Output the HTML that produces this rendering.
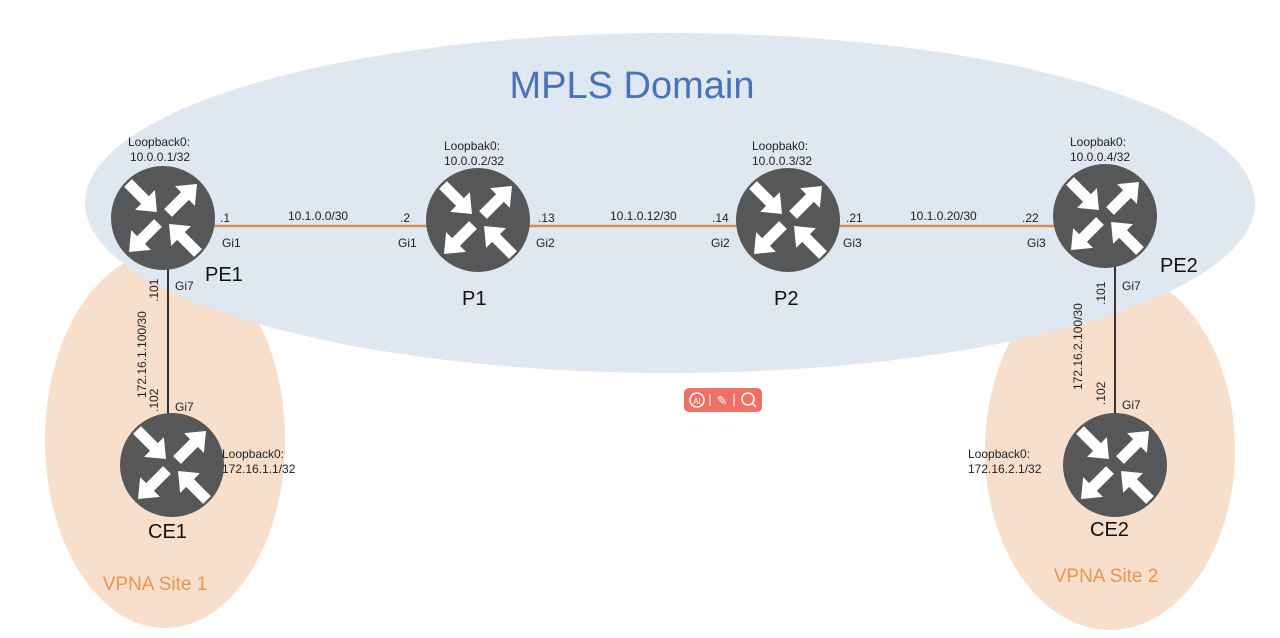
<!DOCTYPE html>
<html><head><style>
body{margin:0;background:#fff;}
svg{display:block;font-family:"Liberation Sans",Arial,sans-serif;}
</style></head><body>
<svg width="1280" height="638" viewBox="0 0 1280 638">
<defs>
<polygon id="a" points="0,-5.5 24,-5.5 24,-14 41,0 24,14 24,5.5 0,5.5" fill="#fff"/>
<g id="r">
<circle r="52" fill="#555759"/>
<use href="#a" transform="translate(-35,-35) rotate(45)"/>
<use href="#a" transform="translate(35,35) rotate(-135)"/>
<use href="#a" transform="translate(5,-5) rotate(-45)"/>
<use href="#a" transform="translate(-5,5) rotate(135)"/>
</g>
</defs>
<ellipse cx="165" cy="440" rx="120" ry="188" fill="#f8dfcc"/>
<ellipse cx="1110" cy="450" rx="125" ry="180" fill="#f8dfcc"/>
<ellipse cx="670" cy="203" rx="585" ry="170" fill="#dfe7f0"/>
<text x="632" y="98" font-size="38" fill="#4a72b8" text-anchor="middle">MPLS Domain</text>
<text x="155" y="590" font-size="19" fill="#e8954e" text-anchor="middle">VPNA Site 1</text>
<text x="1106" y="582" font-size="19" fill="#e8954e" text-anchor="middle">VPNA Site 2</text>
<line x1="210" y1="226" x2="1060" y2="226" stroke="#d98a52" stroke-width="2.5"/>
<line x1="168" y1="260" x2="168" y2="420" stroke="#333" stroke-width="2"/>
<line x1="1115" y1="260" x2="1115" y2="420" stroke="#333" stroke-width="2"/>
<use href="#r" x="163" y="218"/>
<use href="#r" x="478" y="220"/>
<use href="#r" x="788" y="220"/>
<use href="#r" x="1105" y="216"/>
<use href="#r" x="172" y="465"/>
<use href="#r" x="1115" y="465"/>
<g font-size="12" fill="#222">
<text x="128" y="146">Loopback0:</text><text x="130" y="161">10.0.0.1/32</text>
<text x="444" y="150">Loopbak0:</text><text x="444" y="165">10.0.0.2/32</text>
<text x="752" y="150">Loopbak0:</text><text x="752" y="165">10.0.0.3/32</text>
<text x="1070" y="146">Loopbak0:</text><text x="1070" y="161">10.0.0.4/32</text>
<text x="222" y="458">Loopback0:</text><text x="222" y="473">172.16.1.1/32</text>
<text x="968" y="458">Loopback0:</text><text x="968" y="473">172.16.2.1/32</text>
<text x="220" y="222">.1</text><text x="288" y="220">10.1.0.0/30</text><text x="400" y="222">.2</text>
<text x="222" y="247">Gi1</text><text x="398" y="247">Gi1</text>
<text x="538" y="222">.13</text><text x="610" y="220">10.1.0.12/30</text><text x="712" y="222">.14</text>
<text x="536" y="247">Gi2</text><text x="711" y="247">Gi2</text>
<text x="846" y="222">.21</text><text x="910" y="220">10.1.0.20/30</text><text x="1022" y="222">.22</text>
<text x="843" y="247">Gi3</text><text x="1027" y="247">Gi3</text>
<text x="175" y="290">Gi7</text><text x="175" y="411">Gi7</text>
<text x="1122" y="290">Gi7</text><text x="1122" y="409">Gi7</text>
<text transform="translate(158,302) rotate(-90)">.101</text>
<text transform="translate(146,398) rotate(-90)">172.16.1.100/30</text>
<text transform="translate(158,412) rotate(-90)">.102</text>
<text transform="translate(1105,305) rotate(-90)">.101</text>
<text transform="translate(1082,390) rotate(-90)">172.16.2.100/30</text>
<text transform="translate(1105,405) rotate(-90)">.102</text>
</g>
<g font-size="20" fill="#111">
<text x="205" y="281">PE1</text><text x="462" y="305">P1</text><text x="774" y="305">P2</text>
<text x="1160" y="272">PE2</text><text x="148" y="538">CE1</text><text x="1090" y="536">CE2</text>
</g>
<rect x="684" y="388" width="78" height="24" rx="5" fill="#f07065"/>
<circle cx="697" cy="400" r="7" fill="none" stroke="#fff" stroke-width="1.5"/>
<text x="697" y="404" font-size="8" fill="#fff" text-anchor="middle">AI</text>
<line x1="710" y1="394" x2="710" y2="406" stroke="#fff"/>
<text x="722" y="405" font-size="13" fill="#fff" text-anchor="middle">✎</text>
<line x1="734" y1="394" x2="734" y2="406" stroke="#fff"/>
<circle cx="748" cy="399" r="6" fill="none" stroke="#fff" stroke-width="1.5"/>
<line x1="752" y1="403" x2="756" y2="407" stroke="#fff" stroke-width="1.5"/>
</svg>
</body></html>
